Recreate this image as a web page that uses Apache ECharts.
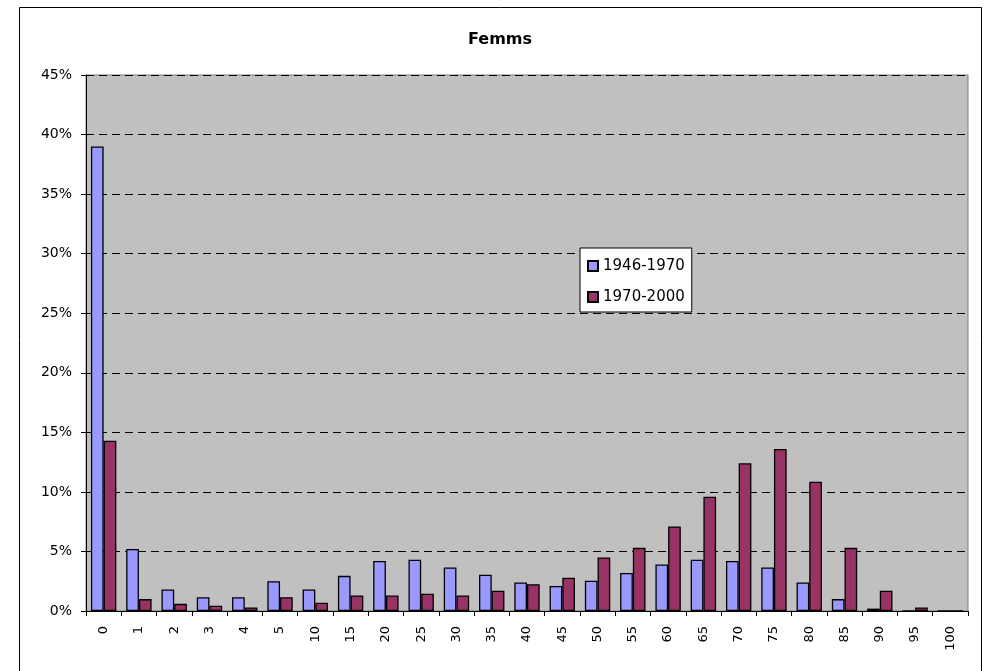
<!DOCTYPE html>
<html>
<head>
<meta charset="utf-8">
<script src="https://cdn.jsdelivr.net/npm/echarts@6/dist/echarts.min.js"></script>
<style>
  html, body { margin: 0; padding: 0; background: #fff; }
  #chart { width: 989px; height: 671px; }
</style>
</head>
<body>
<div id="chart"></div>
<script>
// catégories (âge) et parts en %
const categories = ['0', '1', '2', '3', '4', '5', '10', '15', '20', '25', '30', '35', '40', '45', '50', '55', '60', '65', '70', '75', '80', '85', '90', '95', '100'];
const serie1946 = [39.0, 5.2, 1.8, 1.15, 1.15, 2.5, 1.8, 2.95, 4.2, 4.3, 3.65, 3.05, 2.4, 2.1, 2.55, 3.2, 3.9, 4.3, 4.2, 3.65, 2.4, 1.0, 0.2, 0, 0];
const serie1970 = [14.3, 1.0, 0.6, 0.45, 0.3, 1.15, 0.7, 1.3, 1.3, 1.45, 1.3, 1.7, 2.25, 2.8, 4.5, 5.3, 7.1, 9.6, 12.4, 13.6, 10.85, 5.3, 1.7, 0.3, 0];
const yTicks = [0, 5, 10, 15, 20, 25, 30, 35, 40, 45];

const chart = echarts.init(document.getElementById('chart'));
chart.setOption({
    animation: false,
    textStyle: { fontFamily: 'DejaVu Sans' },
    graphic: [{
        type: 'rect',
        shape: { x: 19.5, y: 7.5, width: 962, height: 720 },
        style: { fill: 'none', stroke: '#000', lineWidth: 1 },
        z: 100
    }],
    title: {
        text: 'Femms',
        left: 468,
        top: 32,
        padding: 0,
        textStyle: { fontSize: 16, fontWeight: 'bold', color: '#000' }
    },
    legend: {
        orient: 'vertical',
        left: 580,
        top: 248,
        backgroundColor: '#fff',
        borderColor: '#000',
        borderWidth: 1,
        padding: [10, 7, 7, 7],
        itemWidth: 10,
        itemHeight: 10,
        itemGap: 15,
        textStyle: { fontSize: 15, color: '#000', lineHeight: 16 },
        data: [
            { name: '1946-1970', icon: 'rect' },
            { name: '1970-2000', icon: 'rect' }
        ]
    },
    grid: {
        left: 86,
        top: 75,
        right: 21,
        bottom: 60,
        show: true,
        backgroundColor: '#C0C0C0',
        borderColor: '#808080',
        borderWidth: 1
    },
    xAxis: {
        type: 'category',
        data: categories,
        axisLine: { lineStyle: { color: '#000', width: 1 } },
        axisTick: { show: true, length: 5, lineStyle: { color: '#000' } },
        axisLabel: { rotate: 90, fontSize: 13, color: '#000', margin: 15 }
    },
    yAxis: {
        type: 'value',
        min: yTicks[0],
        max: yTicks[yTicks.length - 1],
        interval: 5,
        axisLine: { show: true, lineStyle: { color: '#000', width: 1 } },
        axisTick: { show: true, length: 5, lineStyle: { color: '#000' } },
        axisLabel: { formatter: '{value}%', fontSize: 14, color: '#000', margin: 14 },
        splitLine: { show: true, lineStyle: { color: '#000', type: [8, 5], width: 1 } }
    },
    series: [
        {
            name: '1946-1970',
            type: 'bar',
            data: serie1946,
            barGap: '0%',
            barCategoryGap: '28%',
            itemStyle: { color: '#9999FF', borderColor: '#000', borderWidth: 1.3 }
        },
        {
            name: '1970-2000',
            type: 'bar',
            data: serie1970,
            itemStyle: { color: '#993366', borderColor: '#000', borderWidth: 1.3 }
        }
    ]
});
</script>
</body>
</html>
